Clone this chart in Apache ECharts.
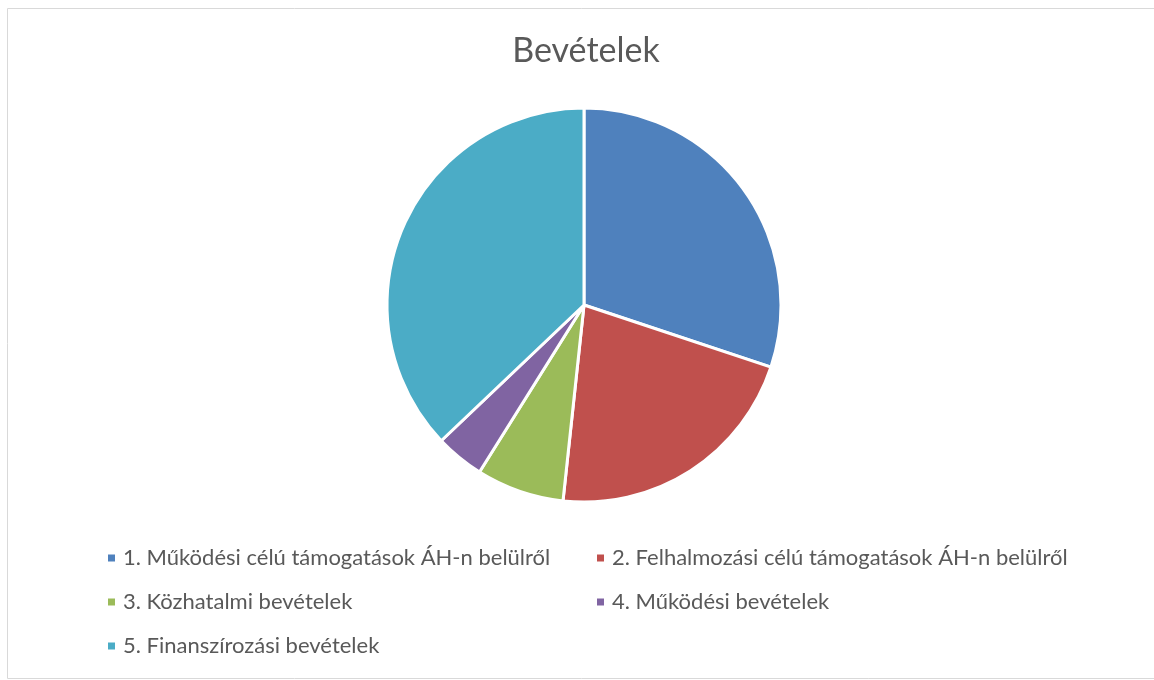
<!DOCTYPE html>
<html>
<head>
<meta charset="utf-8">
<script src="https://cdn.jsdelivr.net/npm/echarts@6/dist/echarts.min.js"></script>
<style>
  html, body { margin: 0; padding: 0; background: #fff; }
  #chart { width: 1154px; height: 680px; }
</style>
</head>
<body>
<div id="chart"></div>
<script>
  const titleText = "Bevételek";
  const categories = [
    "1. Működési célú támogatások ÁH-n belülről",
    "2. Felhalmozási célú támogatások ÁH-n belülről",
    "3. Közhatalmi bevételek",
    "4. Működési bevételek",
    "5. Finanszírozási bevételek"
  ];
  const values = [30.1, 21.6, 7.2, 4.0, 37.1];
  const colors = ["#4F81BD", "#C0504D", "#9BBB59", "#8064A2", "#4BACC6"];

  const chart = echarts.init(document.getElementById("chart"), null, { renderer: "canvas" });

  const legendText = {
    fontFamily: "Lato",
    fontSize: 22,
    color: "#595959",
    padding: [0, 0, 0, 2]
  };

  chart.setOption({
    animation: false,
    title: {
      text: titleText,
      left: 581,
      textAlign: "center",
      top: 29,
      textStyle: {
        fontFamily: "Lato",
        fontWeight: "normal",
        fontSize: 34,
        color: "#595959"
      }
    },
    graphic: [
      {
        type: "rect",
        shape: { x: 7.5, y: 8.5, width: 1150, height: 670 },
        style: { fill: "none", stroke: "#d9d9d9", lineWidth: 1 },
        silent: true
      }
    ],
    legend: [
      {
        orient: "vertical",
        left: 101,
        top: 542,
        itemWidth: 9,
        itemHeight: 9,
        itemGap: 22,
        icon: "rect",
        data: [categories[0], categories[2], categories[4]],
        textStyle: legendText
      },
      {
        orient: "vertical",
        left: 590,
        top: 542,
        itemWidth: 9,
        itemHeight: 9,
        itemGap: 22,
        icon: "rect",
        data: [categories[1], categories[3]],
        textStyle: legendText
      }
    ],
    series: [
      {
        type: "pie",
        center: [584, 305],
        radius: 197,
        startAngle: 90,
        clockwise: true,
        label: { show: false },
        labelLine: { show: false },
        emphasis: { disabled: true },
        itemStyle: { borderColor: "#fff", borderWidth: 3 },
        data: categories.map((name, i) => ({
          name: name,
          value: values[i],
          itemStyle: { color: colors[i] }
        }))
      }
    ]
  });
</script>
</body>
</html>
